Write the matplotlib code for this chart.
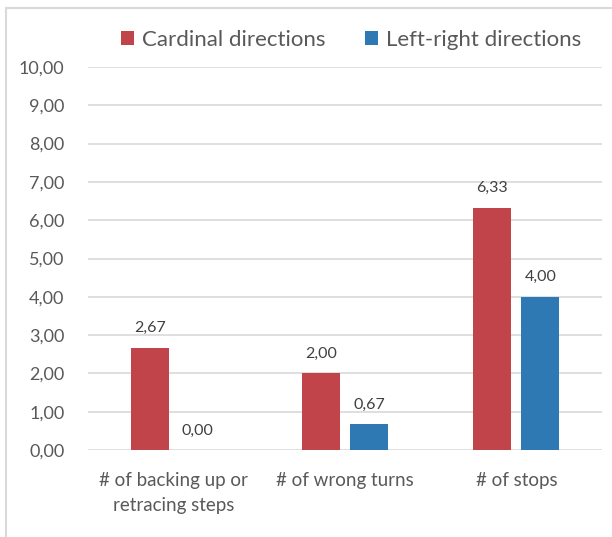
import matplotlib
matplotlib.use("Agg")
import matplotlib.pyplot as plt
import numpy as np
from matplotlib.patches import Rectangle

categories = ["# of backing up or\nretracing steps", "# of wrong turns", "# of stops"]
cardinal = [2.67, 2.00, 6.33]
leftright = [0.00, 0.67, 4.00]
series_names = ["Cardinal directions", "Left-right directions"]
colors = ["#C0444A", "#2E78B4"]

plt.rcParams['font.family'] = ['Lato', 'DejaVu Sans']

W, H = 612, 537
fig = plt.figure(figsize=(W/100, H/100), dpi=100)
ax = fig.add_axes([88/W, 1-450/H, (602-88)/W, (450-67)/H])

x = np.arange(len(categories))
bw = 0.22
off = 0.14
b1 = ax.bar(x - off, cardinal, bw, color=colors[0], label=series_names[0], zorder=3)
b2 = ax.bar(x + off, leftright, bw, color=colors[1], label=series_names[1], zorder=3)

for bars, vals in ((b1, cardinal), (b2, leftright)):
    for r, v in zip(bars, vals):
        ax.annotate(f"{v:.2f}".replace('.', ','), (r.get_x()+r.get_width()/2, v),
                    xytext=(0, 9), textcoords='offset points', ha='center', va='bottom',
                    fontsize=11.5, color='#404040')

ax.set_xlim(-0.5, 2.5)
ax.set_ylim(0, 10)
ax.set_yticks(np.arange(0, 11, 1))
ax.set_yticklabels([f"{v:.2f}".replace('.', ',') for v in np.arange(0, 11, 1)])
ax.set_xticks(x)
ax.set_xticklabels(categories, linespacing=1.55)
ax.tick_params(axis='y', length=0, labelsize=13, colors='#595959', pad=17)
ax.tick_params(axis='x', length=0, labelsize=13.5, colors='#595959', pad=16)
ax.grid(axis='y', color='#D9D9D9', linewidth=1.2, zorder=0)
for s in ax.spines.values():
    s.set_visible(False)

fig.legend(handles=[b1, b2], labels=series_names, loc='center', bbox_to_anchor=(351/W, 1-40/H),
           ncol=2, frameon=False, fontsize=16, handlelength=0.6, handleheight=0.6,
           handletextpad=0.35, columnspacing=1.8, labelcolor='#595959')

fig.add_artist(Rectangle((6/W, -0.1), 1.2, 1 - 8/H + 0.1, transform=fig.transFigure,
                         fill=False, edgecolor='#D9D9D9', linewidth=1.5))

fig.savefig("out.png", dpi=100)
